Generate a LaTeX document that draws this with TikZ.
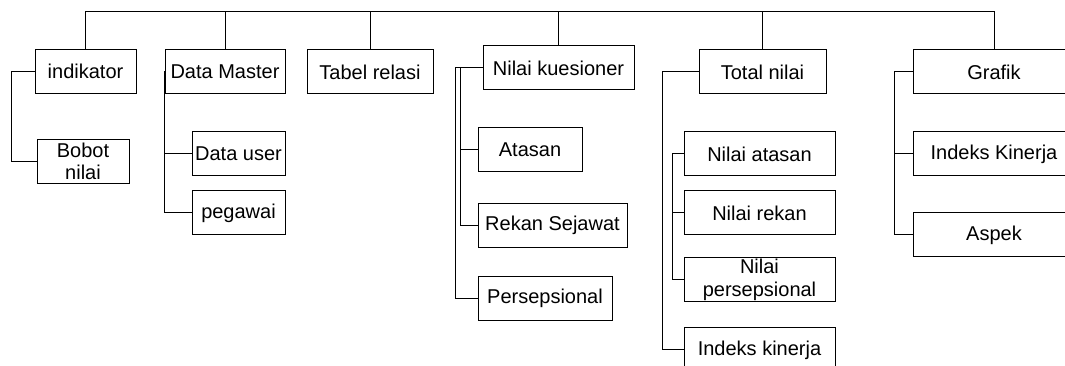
\documentclass[tikz,border=0pt]{standalone}
\usepackage{fontspec}
\setmainfont{Liberation Sans}
\begin{document}
\begin{tikzpicture}[x=0.75pt, y=-0.75pt,
		box/.style={draw, line width=0.75pt, inner sep=0pt, minimum height=33pt, align=center, font=\fontsize{15pt}{17pt}\selectfont},
		link/.style={line width=0.75pt}]
		\useasboundingbox (0,0) rectangle (1065,366);
		\clip (0,0) rectangle (1065,366);

		\node[box, minimum width=75.75pt] (indikator) at (85.5,71.5) {indikator};
		\node[box, minimum width=69pt] (bobot) at (83,161.5) {Bobot\\nilai};

		\node[box, minimum width=90pt] (datamaster) at (225,71.5) {Data Master};
		\node[box, minimum width=69.75pt] (datauser) at (238.5,154) {Data user};
		\node[box, minimum width=69.75pt] (pegawai) at (238.5,213) {pegawai};

		\node[box, minimum width=94.5pt] (tabelrelasi) at (370,72) {Tabel relasi};

		\node[box, minimum width=113.25pt] (kuesioner) at (558.5,68) {Nilai kuesioner};
		\node[box, minimum width=78pt] (atasan) at (530,149.5) {Atasan};
		\node[box, minimum width=111.75pt] (sejawat) at (552.5,225.5) {Rekan Sejawat};
		\node[box, minimum width=100.5pt] (persepsional) at (545,298.5) {Persepsional};

		\node[box, minimum width=95.25pt] (totalnilai) at (762.5,72) {Total nilai};
		\node[box, minimum width=113.25pt] (nilaiatasan) at (759.5,154) {Nilai atasan};
		\node[box, minimum width=113.25pt] (nilairekan) at (759.5,213) {Nilai rekan};
		\node[box, minimum width=113.25pt] (nilaipersep) at (759.5,279.5) {Nilai\\persepsional};
		\node[box, minimum width=113.25pt] (indekskinerja) at (759.5,350) {Indeks kinerja};

		\node[box, minimum width=121.5pt] (grafik) at (994,72) {Grafik};
		\node[box, minimum width=121.5pt] (indeksgrafik) at (994,154) {Indeks Kinerja};
		\node[box, minimum width=121.5pt] (aspek) at (994,235) {Aspek};

		% top bar
		\coordinate (top) at (0,12);
		\draw[link] (indikator.north) -- (indikator.north |- top) -- (grafik.north |- top) -- (grafik.north);
		\draw[link] (datamaster.north) -- (datamaster.north |- top);
		\draw[link] (tabelrelasi.north) -- (tabelrelasi.north |- top);
		\draw[link] (kuesioner.north) -- (kuesioner.north |- top);
		\draw[link] (totalnilai.north) -- (totalnilai.north |- top);

		% branches
		\draw[link] (indikator.west) -- ++(-23,0) |- (bobot.west);

		\draw[link] (datamaster.west) |- (datauser.west);
		\draw[link] (datamaster.west) |- (pegawai.west);

		\draw[link] (kuesioner.west) -- ++(-22,0) |- (atasan.west);
		\draw[link] (kuesioner.west) -- ++(-22,0) |- (sejawat.west);
		\draw[link] (kuesioner.west) -- ++(-27,0) |- (persepsional.west);

		\draw[link] (totalnilai.west) -- ++(-36,0) |- (indekskinerja.west);
		\draw[link] (nilaiatasan.west) -- ++(-11,0) |- (nilairekan.west);
		\draw[link] (nilaiatasan.west) -- ++(-11,0) |- (nilaipersep.west);

		\draw[link] (grafik.west) -- ++(-18,0) |- (indeksgrafik.west);
		\draw[link] (grafik.west) -- ++(-18,0) |- (aspek.west);
	\end{tikzpicture}
\end{document}
